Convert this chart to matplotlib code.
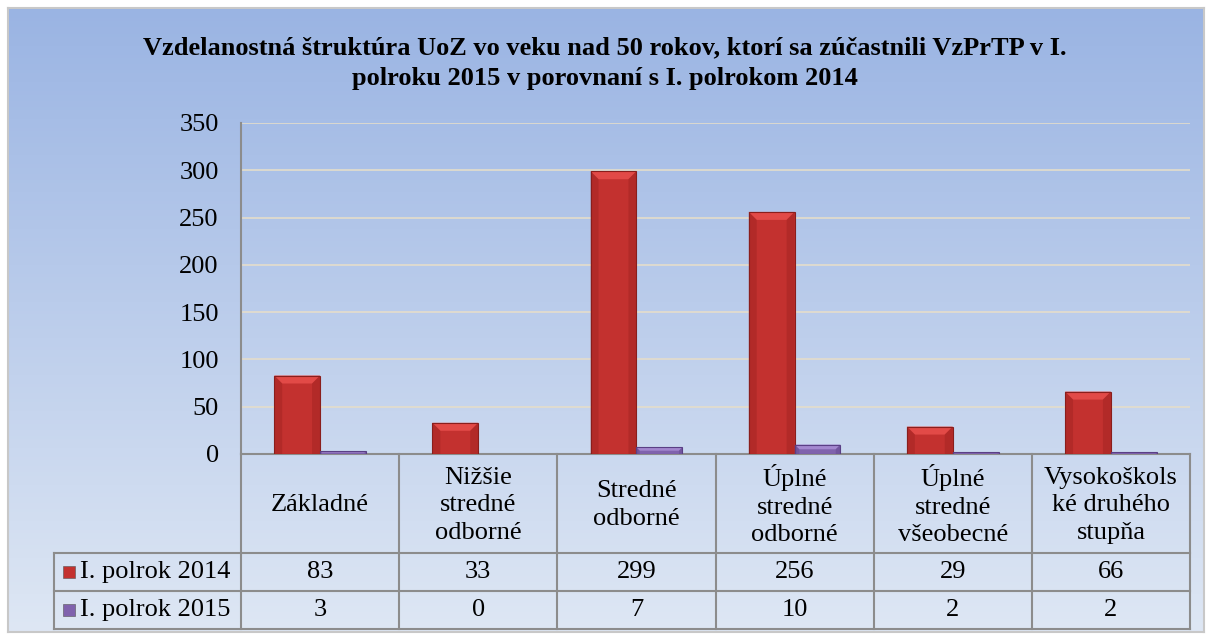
import numpy as np
import matplotlib
matplotlib.use("Agg")
import matplotlib.pyplot as plt
from matplotlib.patches import Polygon, Rectangle
from matplotlib.transforms import IdentityTransform, blended_transform_factory

plt.rcParams['font.family'] = ['Liberation Serif', 'DejaVu Serif']

# data
categories = ["Základné", "Nižšie\nstredné\nodborné", "Stredné\nodborné",
              "Úplné\nstredné\nodborné", "Úplné\nstredné\nvšeobecné",
              "Vysokoškols\nké druhého\nstupňa"]
series_names = ["I. polrok 2014", "I. polrok 2015"]
values_2014 = [83, 33, 299, 256, 29, 66]
values_2015 = [3, 0, 7, 10, 2, 2]
title = ("Vzdelanostná štruktúra UoZ vo veku nad 50 rokov, ktorí sa zúčastnili VzPrTP v I.\n"
         "polroku 2015 v porovnaní s I. polrokom 2014")

W, H = 1210, 636
fig = plt.figure(figsize=(W / 100, H / 100), dpi=100)
fig.patch.set_facecolor("white")

# gradient background inside a thin grey frame
bg = fig.add_axes([8 / W, 4 / H, (W - 14) / W, (H - 12) / H])
grad = np.linspace(0, 1, 256)[:, None]
top = np.array([0x9A, 0xB4, 0xE3]) / 255
bot = np.array([0xDE, 0xE7, 0xF4]) / 255
img = top[None, None, :] * (1 - grad[:, :, None]) + bot[None, None, :] * grad[:, :, None]
bg.imshow(img, aspect="auto", extent=[0, 1, 0, 1])
bg.set_xlim(0, 1)
bg.set_ylim(0, 1)
bg.set_xticks([])
bg.set_yticks([])
for s in bg.spines.values():
    s.set_color("#C8C8C8")
    s.set_linewidth(1.5)

fig.text(0.5, 1 - 63 / H, title, ha="center", va="center", fontsize=19,
         fontweight="bold", linespacing=1.4)

ax = fig.add_axes([241 / W, 1 - 454 / H, (1190 - 241) / W, (454 - 123) / H])
ax.patch.set_alpha(0)
x = np.arange(len(categories))
bw = 0.29
red_bars = ax.bar(x - bw / 2, values_2014, bw, color="#C3312F", zorder=3)
pur_bars = ax.bar(x + bw / 2, values_2015, bw, color="#8062AD", zorder=3)
ax.set_xlim(-0.5, len(categories) - 0.5)
ax.set_ylim(0, 350)
ax.set_yticks(range(0, 351, 50))
ax.yaxis.grid(True, color="#E4DDCB", linewidth=1.2, zorder=0)
ax.set_xticks([])
ax.tick_params(axis="y", length=0, labelsize=19, pad=16)
for s in ["top", "right"]:
    ax.spines[s].set_visible(False)
ax.spines["left"].set_color("#8C8C8C")
ax.spines["bottom"].set_color("#8C8C8C")
ax.spines["left"].set_linewidth(1.5)
ax.spines["bottom"].set_linewidth(1.5)

fig.canvas.draw()


def bevel(bars, light, dark, edge):
    for p in bars:
        if p.get_height() <= 0:
            continue
        (x0, y0), (x1, y1) = ax.transData.transform(
            [(p.get_x(), 0), (p.get_x() + p.get_width(), p.get_height())])
        b = min(8, (y1 - y0) / 2, (x1 - x0) / 2)
        ax.add_patch(Polygon([(x0, y1), (x1, y1), (x1 - b, y1 - b), (x0 + b, y1 - b)],
                             closed=True, transform=IdentityTransform(),
                             facecolor=light, edgecolor="none", zorder=4))
        ax.add_patch(Polygon([(x0, y0), (x0, y1), (x0 + b, y1 - b), (x0 + b, y0)],
                             closed=True, transform=IdentityTransform(),
                             facecolor=dark, edgecolor="none", zorder=4, alpha=0.45))
        ax.add_patch(Polygon([(x1, y0), (x1, y1), (x1 - b, y1 - b), (x1 - b, y0)],
                             closed=True, transform=IdentityTransform(),
                             facecolor=dark, edgecolor="none", zorder=4, alpha=0.45))
        ax.add_patch(Rectangle((x0, y0), x1 - x0, y1 - y0, transform=IdentityTransform(),
                               facecolor="none", edgecolor=edge, linewidth=0.8, zorder=5))


bevel(red_bars, "#E24A47", "#9E2220", "#8A1E1C")
bevel(pur_bars, "#A387CF", "#62478D", "#5A3F85")

# data table under the axes
tr = blended_transform_factory(ax.transData, ax.transAxes)
ppa = 454 - 123
y_head = -(553 - 454) / ppa
y_r1 = -(591 - 454) / ppa
y_r2 = -(629 - 454) / ppa
xl = -0.5 - (241 - 54) / ((1190 - 241) / len(categories))
lc = "#8C8C8C"
lw = 1.5
n = len(categories)
for i in range(n + 1):
    ax.plot([i - 0.5, i - 0.5], [0, y_r2], transform=tr, color=lc, lw=lw, clip_on=False)
for yy in [y_head, y_r1, y_r2]:
    ax.plot([xl, n - 0.5], [yy, yy], transform=tr, color=lc, lw=lw, clip_on=False)
ax.plot([xl, xl], [y_head, y_r2], transform=tr, color=lc, lw=lw, clip_on=False)

for i, c in enumerate(categories):
    ax.text(i, y_head / 2 - 0.005, c, transform=tr, ha="center", va="center", fontsize=19,
            linespacing=1.33)
    ax.text(i, (y_head + y_r1) / 2, str(values_2014[i]), transform=tr,
            ha="center", va="center", fontsize=19)
    ax.text(i, (y_r1 + y_r2) / 2, str(values_2015[i]), transform=tr,
            ha="center", va="center", fontsize=19)

for (name, col), (y_a, y_b) in zip(zip(series_names, ["#C3312F", "#8062AD"]),
                                   [(y_head, y_r1), (y_r1, y_r2)]):
    ym = (y_a + y_b) / 2
    ax.text(xl + 0.165, ym, name, transform=tr, ha="left", va="center", fontsize=19)
    ax.scatter([xl + 0.095], [ym], transform=tr, marker="s", s=75, color=col,
               edgecolor="#555555", linewidth=0.4, clip_on=False, zorder=6)

fig.savefig("out.png", dpi=100, facecolor=fig.get_facecolor())
